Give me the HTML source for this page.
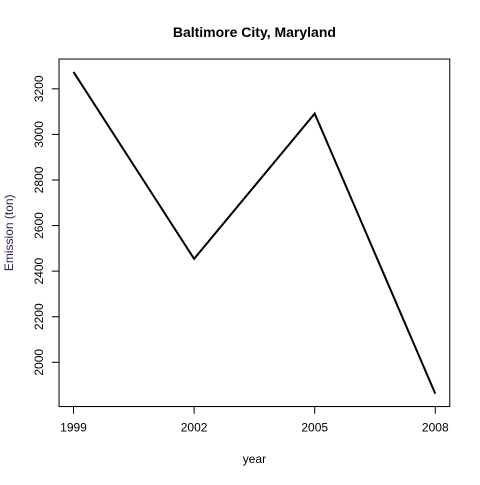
<!DOCTYPE html>
<html><head><meta charset="utf-8"><style>
body{margin:0;background:#fff}
text{font-family:"Liberation Sans",Arial,sans-serif;font-size:12px;fill:#000}
</style></head><body>
<svg id="chart" width="480" height="480" xmlns="http://www.w3.org/2000/svg">
<rect width="480" height="480" fill="#fff"/>
<text x="254.4" y="37" text-anchor="middle" style="font-weight:bold;font-size:14px">Baltimore City, Maryland</text>
<rect x="59.04" y="59.04" width="390.72" height="347.52" fill="none" stroke="#000" stroke-width="1"/>
<g id="xaxis"></g>
<g id="yaxis"></g>
<text x="254.4" y="463" text-anchor="middle">year</text>
<text transform="translate(13,232.8) rotate(-90)" text-anchor="middle" style="fill:#301850">Emission (ton)</text>
<path id="line" fill="none" stroke="#000" stroke-width="2"/>
</svg>
<script>
const years = [1999, 2002, 2005, 2008];
const emissions = [3274.18, 2453.92, 3091.35, 1862.28];
const yTicks = [2000, 2200, 2400, 2600, 2800, 3000, 3200];
const L=59.04,R=449.76,T=59.04,B=406.56;
const xmin=Math.min(...years),xmax=Math.max(...years),xs=(xmax-xmin)*0.04;
const ymin=Math.min(...emissions),ymax=Math.max(...emissions),ys=(ymax-ymin)*0.04;
const X=v=>L+(v-(xmin-xs))/((xmax+xs)-(xmin-xs))*(R-L);
const Y=v=>B-(v-(ymin-ys))/((ymax+ys)-(ymin-ys))*(B-T);
const NS='http://www.w3.org/2000/svg';
const xa=document.getElementById('xaxis'),ya=document.getElementById('yaxis');
function mk(t,a){const e=document.createElementNS(NS,t);for(const k in a)e.setAttribute(k,a[k]);return e;}
let l=mk('line',{x1:X(years[0]),x2:X(years[years.length-1]),y1:B,y2:B,stroke:'#000'});xa.appendChild(l);
years.forEach(v=>{
 const t=mk('line',{x1:X(v),x2:X(v),y1:B,y2:B+7.2,stroke:'#000'});
 
 
 xa.appendChild(t);
 const s=mk('text',{x:X(v),y:B+25,'text-anchor':'middle'});s.textContent=v;
 
 
 xa.appendChild(s);
});
l=mk('line',{x1:L,x2:L,y1:Y(yTicks[0]),y2:Y(yTicks[yTicks.length-1]),stroke:'#000'});ya.appendChild(l);
yTicks.forEach(v=>{
 const t=mk('line',{x1:L-7.2,x2:L,y1:Y(v),y2:Y(v),stroke:'#000'});
 
 
 ya.appendChild(t);
 const s=mk('text',{transform:`translate(${L-16},${Y(v)}) rotate(-90)`,'text-anchor':'middle'});s.textContent=v;
 
 
 ya.appendChild(s);
});
document.getElementById('line').setAttribute('d',years.map((v,i)=>(i?'L':'M')+X(v)+' '+Y(emissions[i])).join(' '));
</script>
</body></html>
